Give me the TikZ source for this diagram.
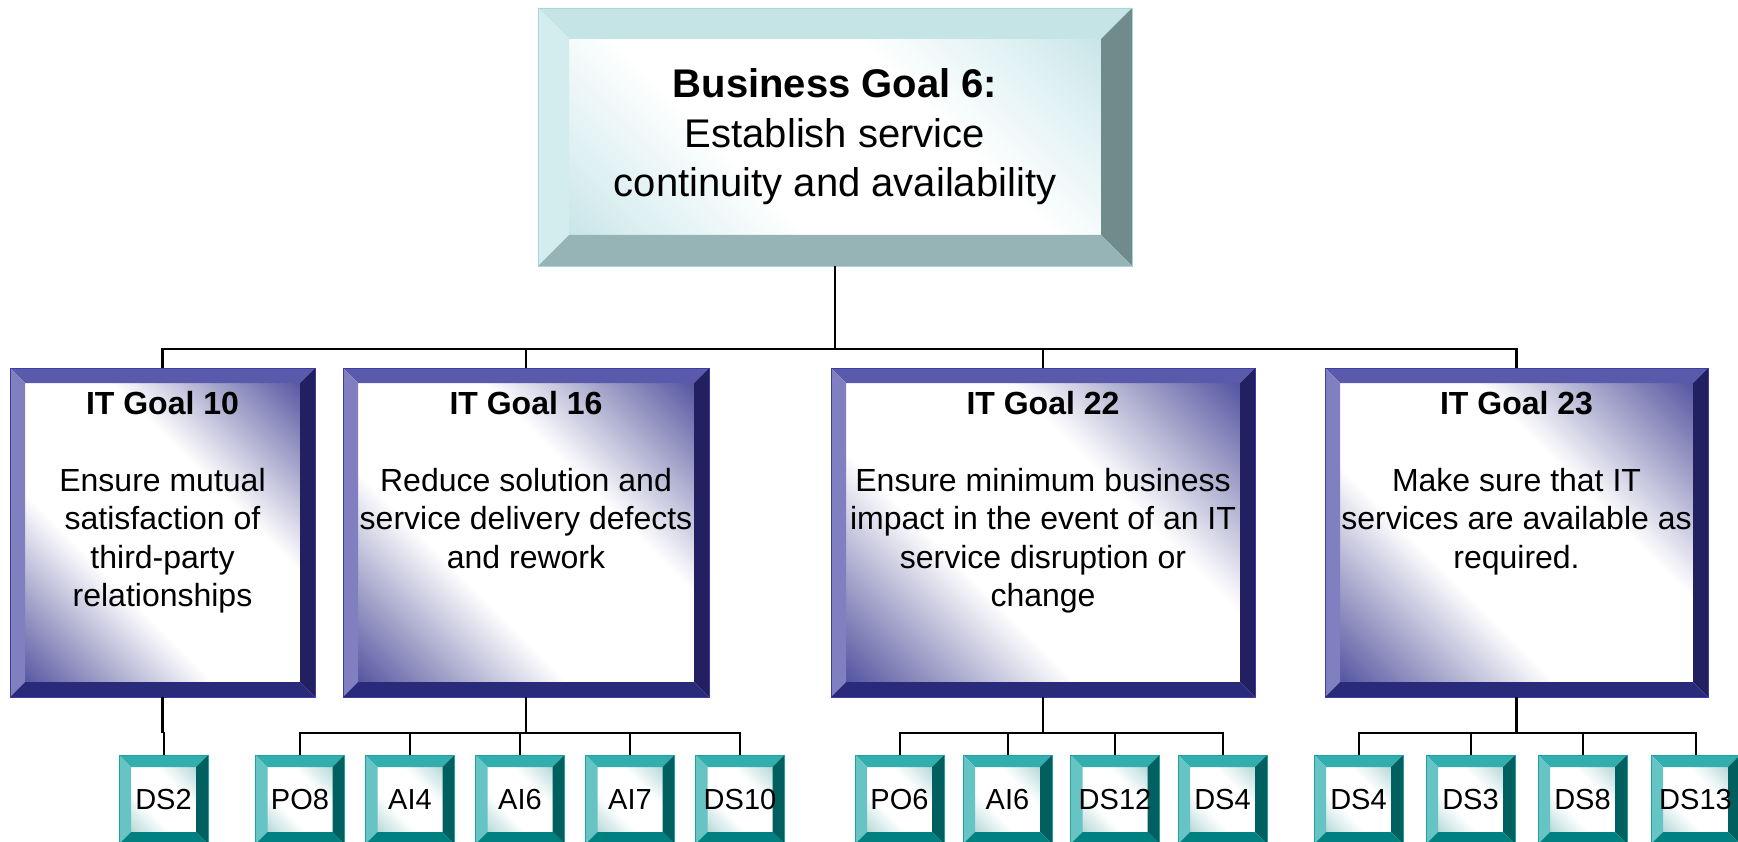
\documentclass[tikz,border=0pt]{standalone}
\usepackage{fontspec}
\setmainfont{Liberation Sans}

% face colours of the three kinds of bevelled boxes
\definecolor{paleTop}{RGB}{197,228,230}
\definecolor{paleLeft}{RGB}{211,236,238}
\definecolor{paleRight}{RGB}{111,139,140}
\definecolor{paleBottom}{RGB}{150,179,181}
\definecolor{paleEdge}{RGB}{166,214,218}
\definecolor{paleDeep}{RGB}{186,222,226}
\definecolor{paleMid}{RGB}{222,240,242}

\definecolor{blueTop}{RGB}{90,90,172}
\definecolor{blueLeft}{RGB}{128,128,192}
\definecolor{blueRight}{RGB}{34,32,96}
\definecolor{blueBottom}{RGB}{42,42,122}
\definecolor{blueEdge}{RGB}{60,60,165}
\definecolor{blueDeep}{RGB}{66,66,152}
\definecolor{blueMid}{RGB}{160,160,200}

\definecolor{tealTop}{RGB}{51,174,174}
\definecolor{tealLeft}{RGB}{102,196,196}
\definecolor{tealRight}{RGB}{0,95,95}
\definecolor{tealBottom}{RGB}{0,128,128}
\definecolor{tealEdge}{RGB}{32,160,160}
\definecolor{tealDeep}{RGB}{130,184,184}
\definecolor{tealMid}{RGB}{196,224,224}

% diagonal face gradients: dark towards two opposite corners, white band in between
\pgfdeclarehorizontalshading{diagpale}{100bp}{color(0bp)=(paleDeep); color(15bp)=(paleDeep); color(27bp)=(paleMid); color(40bp)=(white); color(60bp)=(white); color(73bp)=(paleMid); color(85bp)=(paleDeep); color(100bp)=(paleDeep)}
\pgfdeclarehorizontalshading{diagblue}{100bp}{color(0bp)=(blueDeep); color(15bp)=(blueDeep); color(27bp)=(blueMid); color(39bp)=(white); color(61bp)=(white); color(73bp)=(blueMid); color(85bp)=(blueDeep); color(100bp)=(blueDeep)}
\pgfdeclarehorizontalshading{diagteal}{100bp}{color(0bp)=(tealDeep); color(15bp)=(tealDeep); color(27bp)=(tealMid); color(40bp)=(white); color(60bp)=(white); color(73bp)=(tealMid); color(85bp)=(tealDeep); color(100bp)=(tealDeep)}

\tikzset{
  % bevel width, face shading, top, left, right and bottom frame colours
  bevel/.style n args={6}{
    path picture={
      \shade[shading=#2, shading angle=45]
        ([xshift=#1,yshift=-#1]path picture bounding box.north west) rectangle
        ([xshift=-#1,yshift=#1]path picture bounding box.south east);
      \fill[#3] (path picture bounding box.north west) -- (path picture bounding box.north east)
        -- ([xshift=-#1,yshift=-#1]path picture bounding box.north east)
        -- ([xshift=#1,yshift=-#1]path picture bounding box.north west) -- cycle;
      \fill[#4] (path picture bounding box.north west)
        -- ([xshift=#1,yshift=-#1]path picture bounding box.north west)
        -- ([xshift=#1,yshift=#1]path picture bounding box.south west)
        -- (path picture bounding box.south west) -- cycle;
      \fill[#5] (path picture bounding box.north east) -- (path picture bounding box.south east)
        -- ([xshift=-#1,yshift=#1]path picture bounding box.south east)
        -- ([xshift=-#1,yshift=-#1]path picture bounding box.north east) -- cycle;
      \fill[#6] (path picture bounding box.south west)
        -- ([xshift=#1,yshift=#1]path picture bounding box.south west)
        -- ([xshift=-#1,yshift=#1]path picture bounding box.south east)
        -- (path picture bounding box.south east) -- cycle;
    }
  },
  bizbox/.style={rectangle, draw=paleEdge, line width=0.8pt, inner sep=0pt,
    minimum width=594pt, minimum height=258pt, align=center,
    font=\fontsize{40}{49.5}\selectfont,
    bevel={31pt}{diagpale}{paleTop}{paleLeft}{paleRight}{paleBottom}},
  goalbox/.style={rectangle, draw=blueEdge, line width=0.8pt, inner sep=0pt,
    minimum height=329pt,
    bevel={15pt}{diagblue}{blueTop}{blueLeft}{blueRight}{blueBottom}},
  goaltext/.style={anchor=north, align=center, inner sep=0pt,
    font=\fontsize{32}{38.3}\selectfont},
  procbox/.style={rectangle, draw=tealEdge, line width=0.8pt, inner sep=0pt,
    minimum width=89pt, minimum height=89pt,
    font=\fontsize{29}{34}\selectfont,
    bevel={12pt}{diagteal}{tealTop}{tealLeft}{tealRight}{tealBottom}},
  trunk/.style={line width=2.5pt},
  drop/.style={line width=2pt},
}

\newcommand\goalhead[1]{\rule{0pt}{25pt}\textbf{#1}\\[38.3pt]}

\begin{document}
\begin{tikzpicture}[x=1pt, y=-1pt]
  \useasboundingbox[fill=white] (0,0) rectangle (1738,842);

  % business goal
  \node[bizbox] (bg) at (835,137)
    {\textbf{Business Goal 6:}\\Establish service\\continuity and availability};

  % IT goals
  \node[goalbox, minimum width=305pt] (g10) at (162.5,532.5) {};
  \node[goalbox, minimum width=366pt] (g16) at (526,532.5) {};
  \node[goalbox, minimum width=424pt] (g22) at (1043,532.5) {};
  \node[goalbox, minimum width=383pt] (g23) at (1516.5,532.5) {};

  \node[goaltext] (g10txt) at ([yshift=-22pt]g10.north)
    {\goalhead{IT Goal 10}Ensure mutual\\satisfaction of\\third-party\\relationships};
  \node[goaltext] (g16txt) at ([yshift=-22pt]g16.north)
    {\goalhead{IT Goal 16}Reduce solution and\\service delivery defects\\and rework};
  \node[goaltext] (g22txt) at ([yshift=-22pt]g22.north)
    {\goalhead{IT Goal 22}Ensure minimum business\\impact in the event of an IT\\service disruption or\\change};
  \node[goaltext] (g23txt) at ([yshift=-22pt]g23.north)
    {\goalhead{IT Goal 23}Make sure that IT\\services are available as\\required.};

  % processes
  \node[procbox] (p10a) at (163.5,799.5) {DS2};

  \node[procbox] (p16a) at (300,799.5) {PO8};
  \node[procbox] (p16b) at (410,799.5) {AI4};
  \node[procbox] (p16c) at (520,799.5) {AI6};
  \node[procbox] (p16d) at (630,799.5) {AI7};
  \node[procbox] (p16e) at (740,799.5) {DS10};

  \node[procbox] (p22a) at (899.5,799.5) {PO6};
  \node[procbox] (p22b) at (1007.5,799.5) {AI6};
  \node[procbox] (p22c) at (1115,799.5) {DS12};
  \node[procbox] (p22d) at (1222.5,799.5) {DS4};

  \node[procbox] (p23a) at (1358.5,799.5) {DS4};
  \node[procbox] (p23b) at (1470.5,799.5) {DS3};
  \node[procbox] (p23c) at (1582.5,799.5) {DS8};
  \node[procbox] (p23d) at (1695.5,799.5) {DS13};

  % bus levels
  \coordinate (upperbus) at (0,349);
  \coordinate (lowerbus) at (0,733);
  \coordinate (hub) at (bg.south |- upperbus);
  \coordinate (h10) at (g10.south |- lowerbus);
  \coordinate (h16) at (g16.south |- lowerbus);
  \coordinate (h22) at (g22.south |- lowerbus);
  \coordinate (h23) at (g23.south |- lowerbus);

  % business goal to IT goals
  \draw[trunk] (bg.south) -- (hub);
  \foreach \g in {g10,g16,g22,g23}
    \draw[trunk] (hub) -| (\g.north);

  % IT goals to processes
  \draw[trunk] (g10.south) -- (h10);
  \draw[drop] (h10) -| (p10a.north);

  \draw[trunk] (g16.south) -- (h16);
  \foreach \p in {p16a,p16b,p16c,p16d,p16e}
    \draw[drop] (h16) -| (\p.north);

  \draw[trunk] (g22.south) -- (h22);
  \foreach \p in {p22a,p22b,p22c,p22d}
    \draw[drop] (h22) -| (\p.north);

  \draw[trunk] (g23.south) -- (h23);
  \foreach \p in {p23a,p23b,p23c,p23d}
    \draw[drop] (h23) -| (\p.north);
\end{tikzpicture}
\end{document}
